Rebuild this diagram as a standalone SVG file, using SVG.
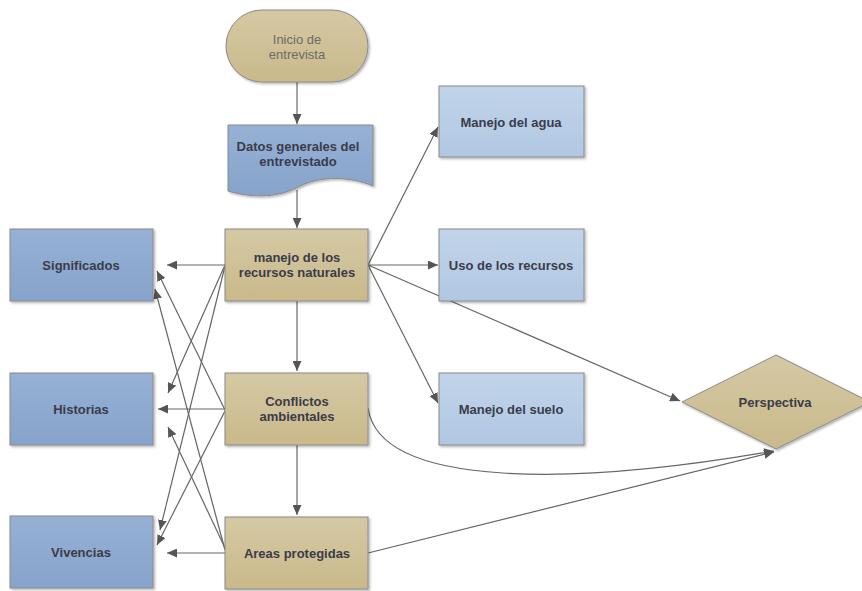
<svg xmlns="http://www.w3.org/2000/svg" width="862" height="591" viewBox="0 0 862 591">
<defs>
<linearGradient id="gTan" x1="0" y1="0" x2="0" y2="1"><stop offset="0" stop-color="#d5c9a4"/><stop offset="1" stop-color="#c9b98b"/></linearGradient>
<linearGradient id="gBlue" x1="0" y1="0" x2="0" y2="1"><stop offset="0" stop-color="#97b1d5"/><stop offset="1" stop-color="#86a3cb"/></linearGradient>
<linearGradient id="gLight" x1="0" y1="0" x2="0" y2="1"><stop offset="0" stop-color="#c1d4ea"/><stop offset="1" stop-color="#b1c7e2"/></linearGradient>
<filter id="sh" x="-10%" y="-10%" width="130%" height="130%"><feDropShadow dx="1.5" dy="1.5" stdDeviation="1.2" flood-color="#000" flood-opacity="0.3"/></filter>
<marker id="ah" markerUnits="userSpaceOnUse" markerWidth="11" markerHeight="9" refX="10" refY="4.5" orient="auto"><path d="M0,0 L10,4.5 L0,9 Z" fill="#555"/></marker>
<style>
.box{stroke:#8a8a8a;stroke-width:1;filter:url(#sh)}
.tan{fill:url(#gTan)}
.blue{fill:url(#gBlue)}
.light{fill:url(#gLight)}
.t{font-family:"Liberation Sans",Arial,sans-serif;font-size:13px;font-weight:bold;fill:#3b3b4a;text-anchor:middle}
.tl{font-family:"Liberation Sans",Arial,sans-serif;font-size:13px;fill:#6e6a66;text-anchor:middle}
.c{fill:none;stroke:#666;stroke-width:1.2;marker-end:url(#ah)}
</style>
</defs>
<rect width="862" height="591" fill="#fff"/>
<g id="connectors">
<path class="c" d="M297,82 V124"/>
<path class="c" d="M297,190 V228"/>
<path class="c" d="M225,265 H167"/>
<path class="c" d="M225,265 L168,393"/>
<path class="c" d="M225,266 L160,530"/>
<path class="c" d="M297,301 V371"/>
<path class="c" d="M225,409 H158"/>
<path class="c" d="M225,410 L157,271"/>
<path class="c" d="M225,411 L157,545"/>
<path class="c" d="M297,445 V515"/>
<path class="c" d="M225,553 H167"/>
<path class="c" d="M225,550 L155,289"/>
<path class="c" d="M225,548 L168,427"/>
<path class="c" d="M368,265 L438,127"/>
<path class="c" d="M368,265 H438"/>
<path class="c" d="M368,265 L438,403"/>
<path class="c" d="M368,265 L680,401"/>
<path class="c" d="M368,408 C380,490 580,485 774,451"/>
<path class="c" d="M368,553 L774,452"/>
</g>
<g id="inicio">
<rect class="box tan" x="226" y="10" width="142" height="72" rx="36" ry="36" stroke="#a89a72"/>
<text class="tl" x="297" y="44">Inicio de</text>
<text class="tl" x="297" y="59">entrevista</text>
</g>
<g id="datos">
<path class="box blue" d="M228,125 H373 V186 C350,176 320,176 300,186 C280,197 255,199 228,191 Z"/>
<text class="t" x="298" y="151">Datos generales del</text>
<text class="t" x="298" y="166">entrevistado</text>
</g>
<g id="manejo-recursos">
<rect class="box tan" x="225" y="229" width="143" height="72"/>
<text class="t" x="297" y="262">manejo de los</text>
<text class="t" x="297" y="277">recursos naturales</text>
</g>
<g id="conflictos">
<rect class="box tan" x="225" y="373" width="143" height="72"/>
<text class="t" x="297" y="406">Conflictos</text>
<text class="t" x="297" y="421">ambientales</text>
</g>
<g id="areas">
<rect class="box tan" x="225" y="517" width="143" height="72"/>
<text class="t" x="297" y="558">Areas protegidas</text>
</g>
<g id="significados">
<rect class="box blue" x="10" y="229" width="143" height="72"/>
<text class="t" x="81" y="270">Significados</text>
</g>
<g id="historias">
<rect class="box blue" x="10" y="373" width="143" height="72"/>
<text class="t" x="81" y="414">Historias</text>
</g>
<g id="vivencias">
<rect class="box blue" x="10" y="516" width="143" height="72"/>
<text class="t" x="81" y="557">Vivencias</text>
</g>
<g id="agua">
<rect class="box light" x="439" y="86" width="145" height="71"/>
<text class="t" x="511" y="127">Manejo del agua</text>
</g>
<g id="uso">
<rect class="box light" x="439" y="229" width="145" height="72"/>
<text class="t" x="511" y="270">Uso de los recursos</text>
</g>
<g id="suelo">
<rect class="box light" x="439" y="373" width="145" height="72"/>
<text class="t" x="511" y="414">Manejo del suelo</text>
</g>
<g id="perspectiva">
<path class="box tan" d="M682,402 L776,355 L870,402 L776,449 Z" stroke="#8f8460"/>
<text class="t" x="775" y="407">Perspectiva</text>
</g>
</svg>
